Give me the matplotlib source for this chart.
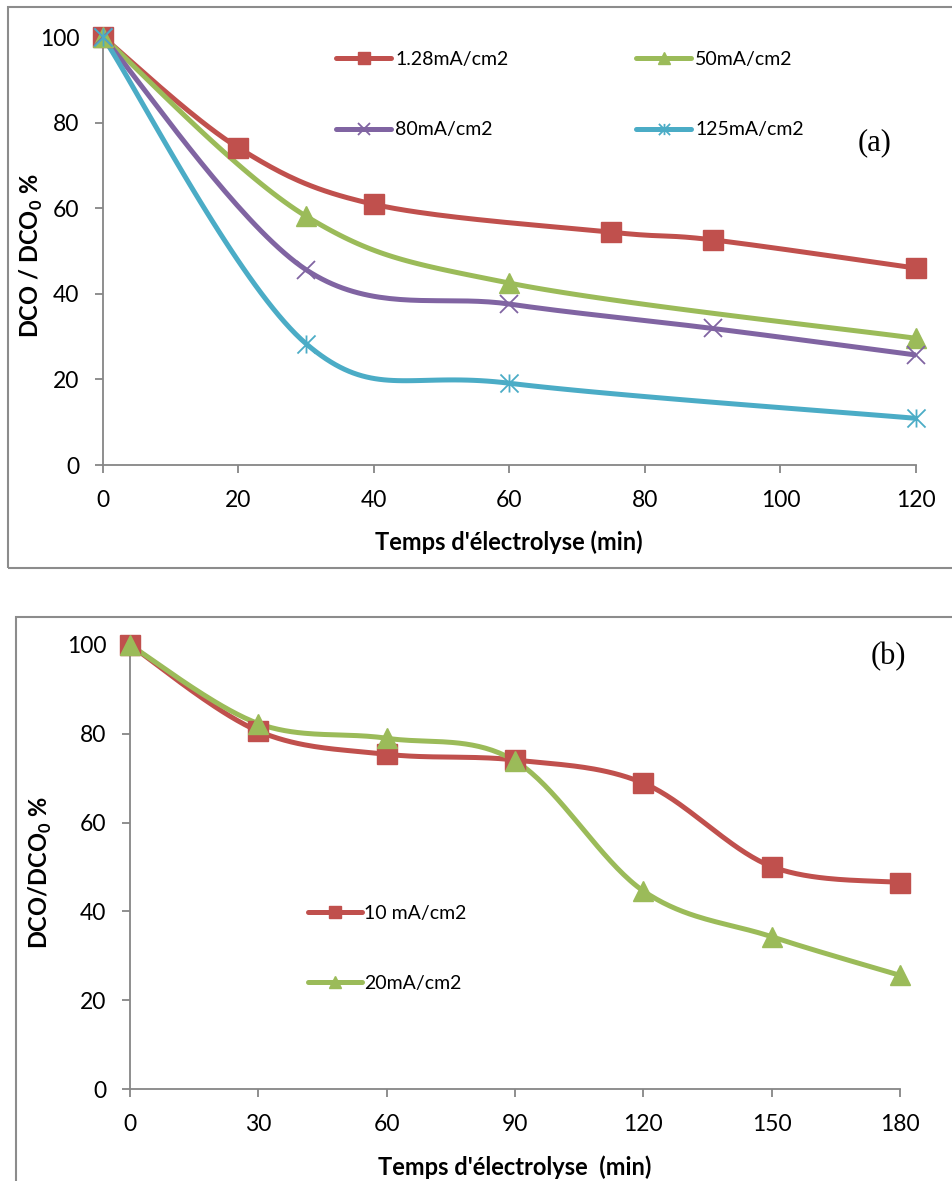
import numpy as np
import matplotlib
matplotlib.use("Agg")
import matplotlib.pyplot as plt
from matplotlib.path import Path
from matplotlib.patches import Rectangle

plt.rcParams['font.family'] = ['Lato', 'DejaVu Sans']
plt.rcParams['mathtext.fontset'] = 'custom'
plt.rcParams['mathtext.rm'] = 'Lato'
plt.rcParams['mathtext.bf'] = 'Lato:bold'

# ---------------- data: panel (a) ----------------
a_labels = ['1.28mA/cm2', '50mA/cm2', '80mA/cm2', '125mA/cm2']
a_x_128 = [0, 20, 40, 75, 90, 120]
a_y_128 = [100, 74.1, 60.9, 54.4, 52.6, 46.0]
a_x_50 = [0, 30, 60, 120]
a_y_50 = [100, 58.1, 42.5, 29.6]
a_x_80 = [0, 30, 60, 90, 120]
a_y_80 = [100, 45.6, 37.6, 31.9, 25.7]
a_x_125 = [0, 30, 60, 120]
a_y_125 = [100, 28.3, 19.1, 10.9]
a_xticks = [0, 20, 40, 60, 80, 100, 120]
a_yticks = [0, 20, 40, 60, 80, 100]

# ---------------- data: panel (b) ----------------
b_labels = ['10 mA/cm2', '20mA/cm2']
b_x = [0, 30, 60, 90, 120, 150, 180]
b_y_10 = [100, 80.6, 75.4, 74.1, 68.9, 50.1, 46.5]
b_y_20 = [100, 82.3, 79.0, 73.9, 44.6, 34.3, 25.6]
b_xticks = [0, 30, 60, 90, 120, 150, 180]
b_yticks = [0, 20, 40, 60, 80, 100]

RED = '#C0504D'
GREEN = '#9BBB59'
PURPLE = '#8064A2'
CYAN = '#4BACC6'
SPINE = '#868686'

TICK_FS = 16.5
LABEL_FS = 17
LEG_FS = 14

# Excel-style asterisk marker (X plus vertical bar)
ASTER = Path([(0, -1), (0, 1), (-1, -1), (1, 1), (-1, 1), (1, -1)],
             [Path.MOVETO, Path.LINETO, Path.MOVETO, Path.LINETO,
              Path.MOVETO, Path.LINETO])


def smooth(xs, ys, n=40):
    """Excel-like smoothed line (Catmull-Rom / Bezier) through the points."""
    P = np.column_stack([xs, ys]).astype(float)
    m = len(P)
    out = [P[0]]
    for i in range(m - 1):
        p0 = P[i - 1] if i > 0 else P[i]
        p1 = P[i]
        p2 = P[i + 1]
        p3 = P[i + 2] if i + 2 < m else P[i + 1]
        c1 = p1 + (p2 - p0) / 6.0
        c2 = p2 - (p3 - p1) / 6.0
        t = np.linspace(0, 1, n)[1:, None]
        seg = ((1 - t) ** 3) * p1 + 3 * ((1 - t) ** 2) * t * c1 + \
            3 * (1 - t) * t ** 2 * c2 + t ** 3 * p2
        out.extend(seg)
    out = np.array(out)
    return out[:, 0], out[:, 1]


def series(ax, xs, ys, color, marker, ms, label, mew=1.0, mfc=None):
    sx, sy = smooth(xs, ys)
    ax.plot(sx, sy, color=color, lw=3.6, solid_capstyle='round', zorder=2)
    ax.plot(xs, ys, linestyle='none', marker=marker, ms=ms,
            mfc=color if mfc is None else mfc, mec=color, mew=mew,
            clip_on=False, zorder=3)
    # proxy for legend
    return ax.plot([], [], color=color, lw=3.6, marker=marker, ms=ms * 0.62,
                   mfc=color if mfc is None else mfc, mec=color,
                   mew=mew, solid_capstyle='round', label=label)[0]


W, H = 953, 1181
fig = plt.figure(figsize=(W / 100, H / 100), dpi=100)


def fx(px):
    return px / W


def fy(py):
    return 1 - py / H


def style_axes(ax):
    for s in ['top', 'right']:
        ax.spines[s].set_visible(False)
    for s in ['left', 'bottom']:
        ax.spines[s].set_color(SPINE)
        ax.spines[s].set_linewidth(1.3)
    ax.tick_params(axis='both', direction='out', length=6, width=1.3,
                   color=SPINE, labelsize=TICK_FS, labelcolor='black')
    ax.tick_params(axis='x', pad=12)
    ax.tick_params(axis='y', pad=11)


# ---------------- panel (a) ----------------
axa = fig.add_axes([fx(103), fy(465), fx(916) - fx(103), fy(37) - fy(465)])
ha = []
ha.append(series(axa, a_x_128, a_y_128, RED, 's', 14, a_labels[0]))
ha.append(series(axa, a_x_50, a_y_50, GREEN, '^', 14, a_labels[1]))
ha.append(series(axa, a_x_80, a_y_80, PURPLE, 'x', 13, a_labels[2], mew=1.3))
ha.append(series(axa, a_x_125, a_y_125, CYAN, ASTER, 13, a_labels[3], mew=1.3))
axa.set_xlim(0, 120)
axa.set_ylim(0, 100)
axa.set_xticks(a_xticks)
axa.set_yticks(a_yticks)
style_axes(axa)
axa.legend(handles=[ha[0], ha[2], ha[1], ha[3]],
           labels=[a_labels[0], a_labels[2], a_labels[1], a_labels[3]],
           ncol=2, loc='upper left', frameon=False, fontsize=LEG_FS,
           handlelength=2.85, handletextpad=0.2, labelspacing=2.75,
           columnspacing=6.55, borderpad=0, borderaxespad=0,
           bbox_transform=fig.transFigure,
           bbox_to_anchor=(fx(336), fy(51)))
fig.text(fx(875), fy(143), '(a)', family='Liberation Serif', fontsize=22,
         ha='center', va='center')
fig.text(fx(509), fy(542), "Temps d'électrolyse (min)", fontsize=LABEL_FS,
         fontweight='bold', ha='center', va='center')
fig.text(fx(31), fy(256), r'DCO / DCO$_\mathbf{0}$ %', fontsize=LABEL_FS,
         fontweight='bold', ha='center', va='center', rotation=90)

# ---------------- panel (b) ----------------
axb = fig.add_axes([fx(130), fy(1089), fx(900) - fx(130), fy(645) - fy(1089)])
hb = []
hb.append(series(axb, b_x, b_y_10, RED, 's', 14, b_labels[0]))
hb.append(series(axb, b_x, b_y_20, GREEN, '^', 14, b_labels[1]))
axb.set_xlim(0, 180)
axb.set_ylim(0, 100)
axb.set_xticks(b_xticks)
axb.set_yticks(b_yticks)
style_axes(axb)
axb.legend(handles=hb, loc='upper left', frameon=False, fontsize=LEG_FS,
           handlelength=2.8, handletextpad=0.1, labelspacing=2.7,
           borderpad=0, borderaxespad=0,
           bbox_transform=fig.transFigure,
           bbox_to_anchor=(fx(308), fy(905)))
fig.text(fx(888), fy(657), '(b)', family='Liberation Serif', fontsize=22,
         ha='center', va='center')
fig.text(fx(515), fy(1167), "Temps d'électrolyse  (min)", fontsize=LABEL_FS,
         fontweight='bold', ha='center', va='center')
fig.text(fx(40), fy(872), r'DCO/DCO$_\mathbf{0}$ %', fontsize=LABEL_FS,
         fontweight='bold', ha='center', va='center', rotation=90)

# outer frames
fig.add_artist(Rectangle((fx(8), fy(568)), 1.2, fy(7) - fy(568),
                         transform=fig.transFigure, fill=False,
                         edgecolor='#8c8c8c', lw=1.5, clip_on=False))
fig.add_artist(Rectangle((fx(16), -0.2), 1.2, fy(617) + 0.2,
                         transform=fig.transFigure, fill=False,
                         edgecolor='#8c8c8c', lw=1.5, clip_on=False))

fig.savefig('out.png', dpi=100, facecolor='white')
